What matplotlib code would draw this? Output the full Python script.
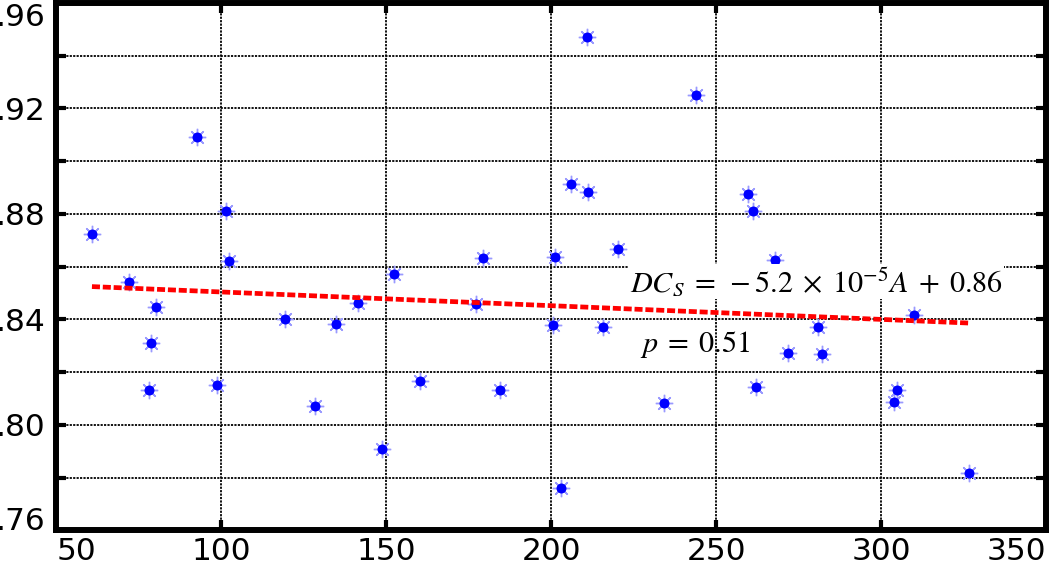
import matplotlib
matplotlib.use("Agg")
import matplotlib.pyplot as plt
import numpy as np

# ---- data ----
area = [60.8, 72.1, 80.1, 78.6, 78.1, 92.6, 101.4, 102.2, 98.8, 119.2,
        128.5, 134.8, 141.4, 152.4, 148.7, 160.1, 177.2, 179.2, 184.4, 200.4,
        201.0, 202.9, 210.8, 206.0, 211.0, 215.6, 220.2, 234.2, 243.7, 259.6,
        261.1, 262.1, 267.9, 271.8, 280.8, 282.0, 303.9, 304.7, 310.0, 326.7]
dcs = [0.8723, 0.8543, 0.8446, 0.8309, 0.8132, 0.9090, 0.8812, 0.8621, 0.8151, 0.8403,
       0.8072, 0.8383, 0.8461, 0.8572, 0.7907, 0.8168, 0.8458, 0.8632, 0.8132, 0.8379,
       0.8638, 0.7760, 0.9470, 0.8913, 0.8882, 0.8370, 0.8668, 0.8082, 0.9251, 0.8874,
       0.8812, 0.8145, 0.8625, 0.8271, 0.8372, 0.8268, 0.8086, 0.8132, 0.8417, 0.7816]

fit_slope = -5.2e-5
fit_intercept = 0.8556

x_ticks = [50, 100, 150, 200, 250, 300, 350]
x_tick_labels = ["50", "100", "150", "200", "250", "300", "350"]
y_ticks = [0.76, 0.78, 0.80, 0.82, 0.84, 0.86, 0.88, 0.90, 0.92, 0.94, 0.96]
y_tick_labels = [".76", "", ".80", "", ".84", "", ".88", "", ".92", "", ".96"]

eq_text = r"$DC_S\;=\;-5.2\;\times\;10^{-5}A\;+\;0.86$"
p_text = r"$p\;=\;0.51$"

# ---- figure ----
plt.rcParams['mathtext.fontset'] = 'stix'
fig = plt.figure(figsize=(10.5, 5.65), dpi=100)
ax = fig.add_axes([56.3/1050, 1-530.4/565, (1046.3-56.3)/1050, (530.4-2.9)/565])

ax.set_xlim(50, 350)
ax.set_ylim(0.76, 0.96)

ax.set_xticks(x_ticks)
ax.set_xticklabels(x_tick_labels)
ax.set_yticks(y_ticks)
ax.set_yticklabels(y_tick_labels)

ax.grid(True, linestyle=(0, (1.2, 0.7)), color='black', linewidth=1.3, zorder=0)
ax.set_axisbelow(True)

for s in ax.spines.values():
    s.set_linewidth(4.3)
ax.tick_params(direction='in', length=7, width=3, top=True, right=True,
               labelsize=22.5, colors='black')
ax.tick_params(axis='x', pad=5)
ax.tick_params(axis='y', pad=8)

xl = ax.get_xticklabels()
xl[0].set_horizontalalignment('left')
xl[-1].set_horizontalalignment('right')
yl = ax.get_yticklabels()
yl[0].set_verticalalignment('baseline')
yl[-1].set_verticalalignment('top')

# markers
ax.plot(area, dcs, linestyle='none', marker=(8, 2, 0), markersize=12.5,
        markeredgecolor='#9a9aff', markeredgewidth=1.0, zorder=3)
ax.plot(area, dcs, linestyle='none', marker='o', markersize=7.2,
        color='#0000ff', markeredgewidth=0, zorder=4)

# fit line
xs = np.array([min(area), max(area)])
ax.plot(xs, fit_slope * xs + fit_intercept, color='red', linewidth=3.4,
        linestyle=(0, (1.7, 0.6)), zorder=5)

ax.text(223.8, 0.8505, eq_text, fontsize=21.7, va='baseline', ha='left',
        bbox=dict(facecolor='white', edgecolor='none', pad=1), zorder=4.5)
ax.text(226.8, 0.8276, p_text, fontsize=21.7, va='baseline', ha='left', zorder=4.5)

fig.savefig("out.png", dpi=100)
